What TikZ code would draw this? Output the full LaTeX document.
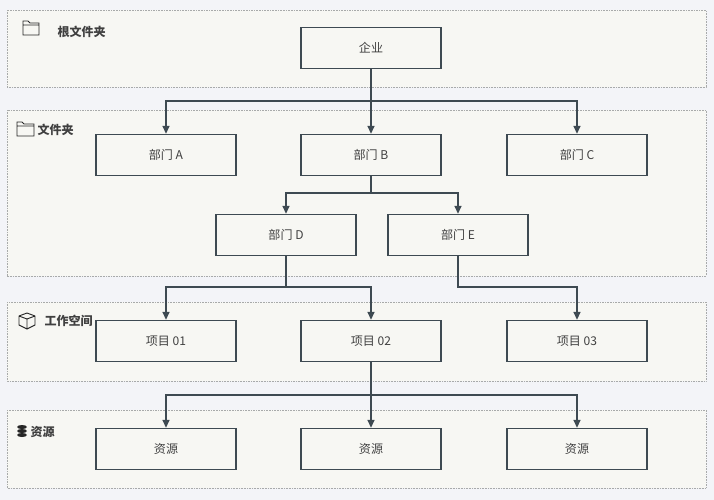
\documentclass[tikz,border=0pt]{standalone}
\usepackage{fontspec}
\setmainfont{Noto Sans CJK SC}
\usetikzlibrary{arrows.meta, positioning}
\definecolor{pagebg}{HTML}{F3F4F8}
\definecolor{panelbg}{HTML}{F7F7F3}
\definecolor{panelline}{HTML}{A8AAAA}
\definecolor{boxline}{HTML}{3E4A52}

\begin{document}
\begin{tikzpicture}[
    x=0.035cm, y=-0.035cm,
    panel/.style={draw=panelline, densely dotted, fill=panelbg, line width=0.6pt},
    unit/.style={rectangle, draw=boxline, fill=panelbg, line width=1.5pt, minimum width=4.9cm, minimum height=1.43cm, font=\fontsize{12}{14}\selectfont, text=black!75},
    tag/.style={anchor=west, font=\fontsize{12}{14}\selectfont\bfseries, text=black!75},
    arrow/.style={-{Triangle[length=8pt,width=7pt]}, draw=boxline, line width=1.4pt},
    icon/.style={draw=black!85, line width=0.9pt}
]
    % background and panels
    \fill[pagebg] (0,0) rectangle (714,500);
    \draw[panel] (7,10) rectangle (706,87);
    \draw[panel] (7,110) rectangle (706,276);
    \draw[panel] (7,302) rectangle (706,381);
    \draw[panel] (7,410) rectangle (706,488);

    % panel labels
    \draw[icon] (23,35) -- (23,21) -- (28,21) -- (30,23) -- (39,23) -- (39,35) -- cycle (23,25) -- (39,25);
    \node[tag] (root_tag) at (54,32) {根文件夹};
    \draw[icon] (17,136) -- (17,122) -- (22,122) -- (24,124) -- (34,124) -- (34,136) -- cycle (17,126) -- (34,126);
    \node[tag] (folder_tag) at (34,130) {文件夹};
    \draw[icon] (19,316) -- (27,313) -- (35,316) -- (35,325) -- (27,329) -- (19,325) -- cycle (19,316) -- (27,319) -- (35,316) (27,319) -- (27,329);
    \node[tag] (space_tag) at (41,321) {工作空间};
    \foreach \yy in {427,431,435}
        \fill[black!85] (22,\yy) ellipse (5 and 2);
    \node[tag] (res_tag) at (27,432) {资源};

    % nodes
    \node[unit] (corp) at (371,48) {企业};
    \node[unit] (deptA) at (166,155) {部门 A};
    \node[unit] (deptB) at (371,155) {部门 B};
    \node[unit] (deptC) at (577,155) {部门 C};
    \node[unit] (deptD) at (286,235) {部门 D};
    \node[unit] (deptE) at (458,235) {部门 E};
    \node[unit] (proj1) at (166,341) {项目 01};
    \node[unit] (proj2) at (371,341) {项目 02};
    \node[unit] (proj3) at (577,341) {项目 03};
    \node[unit] (res1) at (166,449) {资源};
    \node[unit] (res2) at (371,449) {资源};
    \node[unit] (res3) at (577,449) {资源};

    % connectors
    \draw[arrow] (corp.south) |- (166,101) -- (deptA.north);
    \draw[arrow] (corp.south) -- (deptB.north);
    \draw[arrow] (corp.south) |- (577,101) -- (deptC.north);
    \draw[arrow] (deptB.south) |- (286,193) -- (deptD.north);
    \draw[arrow] (deptB.south) |- (458,193) -- (deptE.north);
    \draw[arrow] (deptD.south) |- (166,287) -- (proj1.north);
    \draw[arrow] (deptD.south) |- (371,287) -- (proj2.north);
    \draw[arrow] (deptE.south) |- (577,287) -- (proj3.north);
    \draw[arrow] (proj2.south) |- (166,395) -- (res1.north);
    \draw[arrow] (proj2.south) -- (res2.north);
    \draw[arrow] (proj2.south) |- (577,395) -- (res3.north);
\end{tikzpicture}
\end{document}
